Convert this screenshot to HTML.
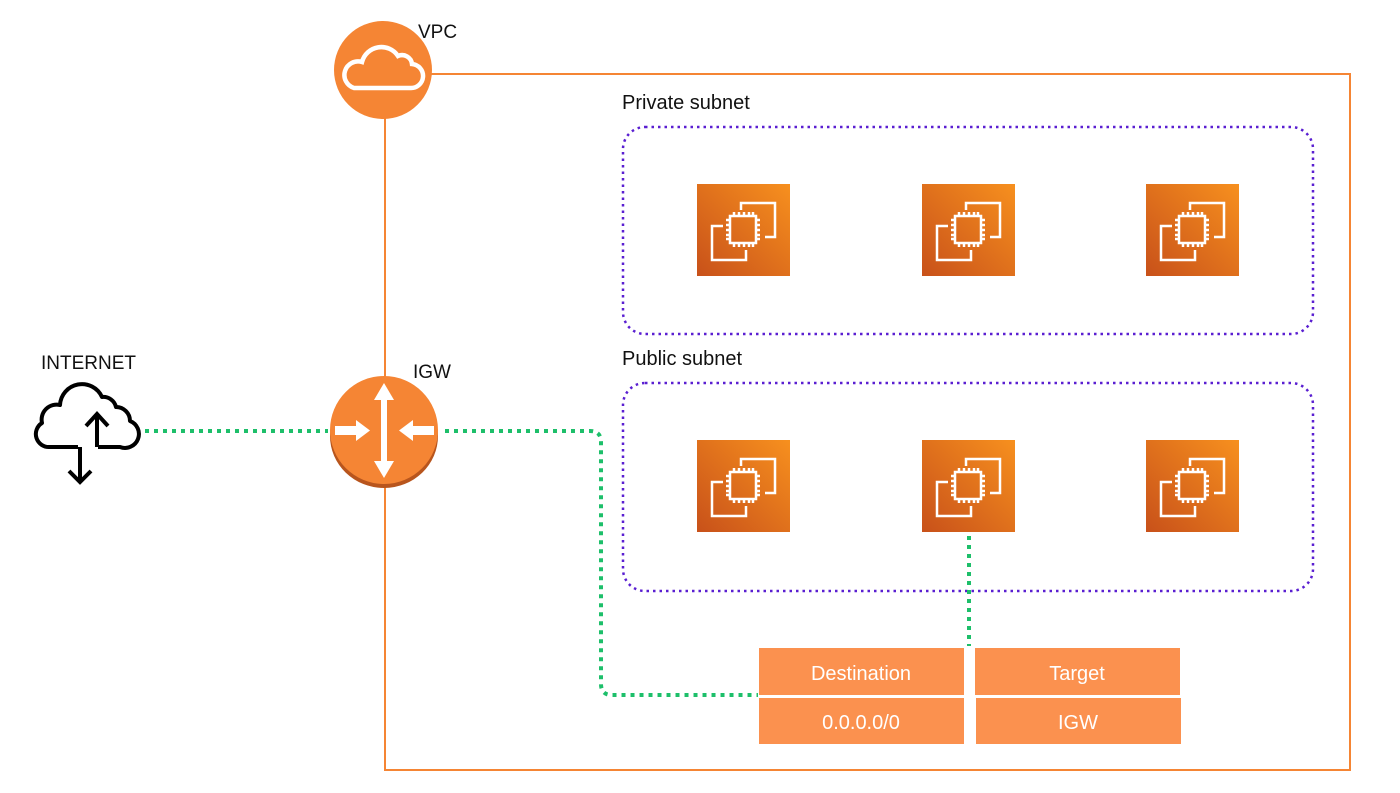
<!DOCTYPE html>
<html><head><meta charset="utf-8"><style>
body{margin:0;background:#fff;width:1400px;height:788px;overflow:hidden;font-family:"Liberation Sans",sans-serif}
</style></head><body>
<svg width="1400" height="788" viewBox="0 0 1400 788" xmlns="http://www.w3.org/2000/svg">
<defs>
<linearGradient id="ec2" x1="0" y1="1" x2="1" y2="0">
<stop offset="0" stop-color="#c8511a"/><stop offset="1" stop-color="#f7901e"/>
</linearGradient>
<g id="chip">
<rect width="93" height="92" fill="url(#ec2)"/>
<g fill="none" stroke="#fff" stroke-width="2.5">
<path d="M44 26 V19 H78 V53 H68"/>
<path d="M26 42 H15 V76 H49 V66"/>
<rect x="33" y="32" width="26" height="27"/>
<path d="M37 32v-4M42 32v-4M47 32v-4M52 32v-4M56 32v-4 M37 59v4M42 59v4M47 59v4M52 59v4M56 59v4 M33 36h-4M33 41h-4M33 46h-4M33 51h-4M33 55h-4 M59 36h4M59 41h4M59 46h4M59 51h4M59 55h4"/>
</g>
</g>
</defs>
<rect x="385" y="74" width="965" height="696" fill="none" stroke="#f58534" stroke-width="2"/>
<rect x="623" y="127" width="690" height="207" rx="22" fill="none" stroke="#5a1fd1" stroke-width="2.5" stroke-dasharray="2.5 4"/>
<rect x="623" y="383" width="690" height="208" rx="22" fill="none" stroke="#5a1fd1" stroke-width="2.5" stroke-dasharray="2.5 4"/>
<text x="622" y="109" font-size="20" fill="#111">Private subnet</text>
<text x="622" y="365" font-size="20" fill="#111">Public subnet</text>
<use href="#chip" x="697" y="184"/><use href="#chip" x="922" y="184"/><use href="#chip" x="1146" y="184"/>
<use href="#chip" x="697" y="440"/><use href="#chip" x="922" y="440"/><use href="#chip" x="1146" y="440"/>
<g fill="none" stroke="#1dbf6a" stroke-width="4" stroke-dasharray="4 5">
<path d="M145 431 H328"/>
<path d="M445 431 H590 Q601 431 601 442 V684 Q601 695 612 695 H758"/>
<path d="M969 536 V646"/>
</g>
<circle cx="383" cy="70" r="49" fill="#f58534"/>
<path d="M354 88 h56 a12 12 0 0 0 2 -24 a10 10 0 0 0 -14 -8 a20 20 0 0 0 -36 6 a13 13 0 0 0 -8 26 z" fill="none" stroke="#fff" stroke-width="4.5"/>
<text x="418" y="38" font-size="19" fill="#111">VPC</text>
<ellipse cx="384" cy="436" rx="54" ry="52" fill="#b8551d"/>
<circle cx="384" cy="430" r="54" fill="#f58534"/>
<g fill="#fff">
<rect x="381" y="395" width="6" height="70"/>
<polygon points="384,383 374,400 394,400"/>
<polygon points="384,478 374,461 394,461"/>
<rect x="335" y="426" width="22" height="9"/><polygon points="356,420 370,430.5 356,441"/>
<rect x="412" y="426" width="22" height="9"/><polygon points="413,420 399,430.5 413,441"/>
</g>
<text x="413" y="378" font-size="19" fill="#111">IGW</text>
<line x1="385" y1="119" x2="385" y2="377" stroke="#f58534" stroke-width="2"/>
<line x1="385" y1="489" x2="385" y2="770" stroke="#f58534" stroke-width="2"/>
<text x="41" y="369" font-size="19" fill="#111">INTERNET</text>
<path d="M78 447 H50 a13 13 0 0 1 -8 -24 a15 15 0 0 1 18 -18 a22 22 0 0 1 42 -8 a13 13 0 0 1 14 10 a14 14 0 0 1 14 14 a13 13 0 0 1 -10 26 H98" fill="none" stroke="#000" stroke-width="4" stroke-linejoin="round"/>
<path d="M97 447 V415 M86 426 L97 414 L108 426" fill="none" stroke="#000" stroke-width="4"/>
<path d="M80 447 V482 M69 471 L80 482 L91 471" fill="none" stroke="#000" stroke-width="4"/>
<g fill="#fb914f">
<rect x="759" y="648" width="205" height="47"/>
<rect x="975" y="648" width="205" height="47"/>
<rect x="759" y="698" width="205" height="46"/>
<rect x="976" y="698" width="205" height="46"/>
</g>
<g fill="#fff" font-size="20" text-anchor="middle">
<text x="861" y="680">Destination</text>
<text x="1077" y="680">Target</text>
<text x="861" y="729">0.0.0.0/0</text>
<text x="1078" y="729">IGW</text>
</g>
</svg>
</body></html>
